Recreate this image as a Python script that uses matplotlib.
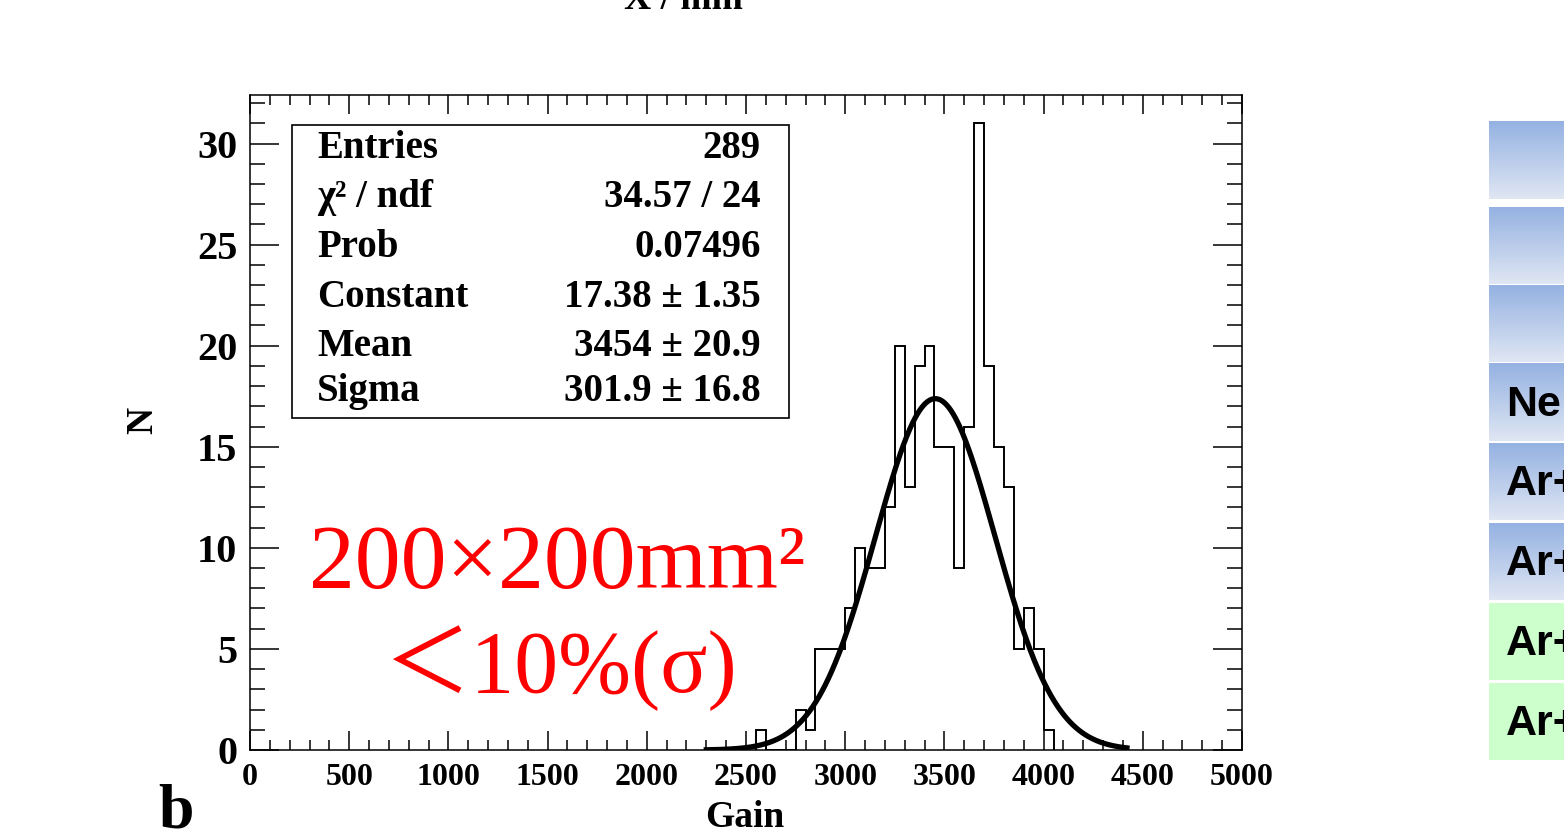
import numpy as np
import matplotlib
matplotlib.use("Agg")
import matplotlib.pyplot as plt
from matplotlib.patches import Rectangle
from matplotlib.ticker import MultipleLocator

# histogram of gain, 50-wide bins starting at 2550
bin_edges = np.arange(2550, 4051, 50)
counts = [1, 0, 0, 0, 2, 1, 5, 5, 5, 7, 10, 9, 9, 12, 20, 13, 19, 20,
          15, 15, 9, 16, 31, 19, 15, 13, 5, 7, 5, 1]

# gaussian fit results
fit_const = 17.38
fit_mean = 3454
fit_sigma = 301.9
fit_range = (2300, 4420)

stat_names = ["Entries", "χ² / ndf", "Prob", "Constant", "Mean", "Sigma"]
stat_values = ["289", "34.57 / 24", "0.07496", "17.38 ± 1.35",
               "3454 ± 20.9", "301.9 ± 16.8"]

table_labels = ["", "", "", "Ne", "Ar+", "Ar+", "Ar+", "Ar+"]
table_kinds = ["blue", "blue", "blue", "blue", "blue", "blue", "green", "green"]

W, H = 1564, 838
fig = plt.figure(figsize=(W / 100, H / 100), dpi=100)
serif = "Liberation Serif"

ax = fig.add_axes([250 / W, 1 - 750 / H, (1242 - 250) / W, (750 - 95) / H])
ax.stairs(counts, bin_edges, color="black", lw=1.4, baseline=0)
xf = np.linspace(fit_range[0], fit_range[1], 400)
yf = fit_const * np.exp(-0.5 * ((xf - fit_mean) / fit_sigma) ** 2)
ax.plot(xf, yf, color="black", lw=3.8, zorder=3)

ax.set_xlim(0, 5000)
ax.set_ylim(0, 32.4)
ax.xaxis.set_major_locator(MultipleLocator(500))
ax.xaxis.set_minor_locator(MultipleLocator(100))
ax.yaxis.set_major_locator(MultipleLocator(5))
ax.yaxis.set_minor_locator(MultipleLocator(1))
ax.tick_params(axis="both", which="both", direction="in", top=True, right=True,
               width=1.1, colors="black")
ax.tick_params(axis="x", which="major", length=14, pad=9)
ax.tick_params(axis="x", which="minor", length=7)
ax.tick_params(axis="y", which="major", length=21, pad=9)
ax.tick_params(axis="y", which="minor", length=11)
for lab in ax.get_xticklabels():
    lab.set_fontfamily(serif)
    lab.set_fontweight("bold")
    lab.set_fontsize(23)
for lab in ax.get_yticklabels():
    lab.set_fontfamily(serif)
    lab.set_fontweight("bold")
    lab.set_fontsize(29)
for sp in ax.spines.values():
    sp.set_linewidth(1.1)

# overlay in pixel coordinates for annotations
deco = fig.add_axes([0, 0, 1, 1])
deco.set_xlim(0, W)
deco.set_ylim(H, 0)
deco.axis("off")

# stats box
deco.add_patch(Rectangle((292, 125), 497, 293, fill=True, facecolor="white",
                         edgecolor="black", lw=1.2))
row_y = [149, 197, 247, 297, 346, 391]
for name, val, y in zip(stat_names, stat_values, row_y):
    deco.text(317, y, name, family=serif, weight="bold", fontsize=28,
              ha="left", va="center")
    deco.text(761, y, val, family=serif, weight="bold", fontsize=28,
              ha="right", va="center")

# red annotation
deco.text(557, 566, "200×200mm²", family=[serif, "Noto Sans CJK SC"],
          color="red", fontsize=66, ha="center", va="center")
deco.text(561, 668, "＜10%(σ)", family=[serif, "Noto Sans CJK SC"],
          color="red", fontsize=63, ha="center", va="center")

# axis titles and panel letter
deco.text(745, 817, "Gain", family=serif, weight="bold", fontsize=27,
          ha="center", va="center")
deco.text(143, 420, "N", family=serif, weight="bold", fontsize=27,
          rotation=90, ha="center", va="center")
deco.text(176, 812, "b", family=serif, weight="bold", fontsize=46,
          ha="center", va="center")
deco.text(683, 9, "X / mm", family=serif, weight="bold", fontsize=27,
          ha="center", va="baseline")

# cropped table on the right
row_tops = [122, 207, 285, 364, 443, 523, 603, 683]
row_h = 77
grad = np.linspace(0, 1, 64).reshape(-1, 1)
c_top = np.array([149, 178, 226]) / 255
c_bot = np.array([223, 230, 243]) / 255
blue_img = c_top + (c_bot - c_top) * grad[:, :, None]
for top, lab, kind in zip(row_tops, table_labels, table_kinds):
    if kind == "blue":
        deco.imshow(blue_img, extent=[1489, W + 40, top + row_h, top],
                    aspect="auto", interpolation="bilinear")
    else:
        deco.add_patch(Rectangle((1489, top), W + 40 - 1489, row_h,
                                 facecolor="#ccffcc", edgecolor="none"))
    if lab:
        deco.text(1506, top + row_h / 2 + 2, lab, family="Liberation Sans",
                  weight="bold", fontsize=31, ha="left", va="center")
deco.set_xlim(0, W)
deco.set_ylim(H, 0)

fig.savefig("out.png", dpi=100)
